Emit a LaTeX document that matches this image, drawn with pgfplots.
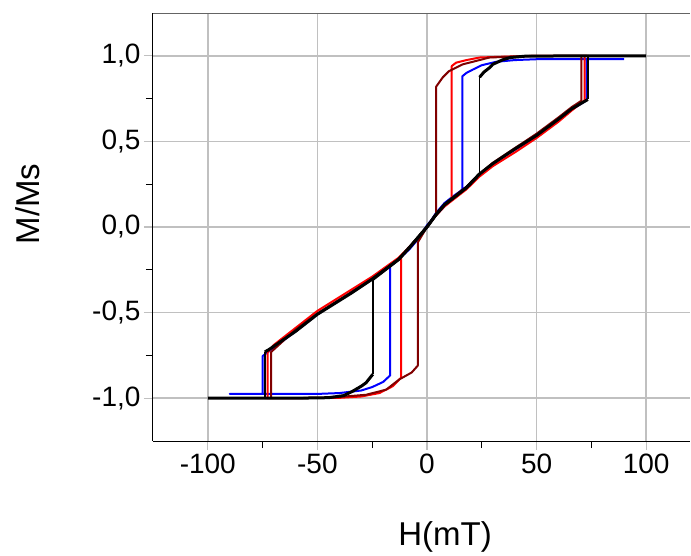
\documentclass[border=0pt]{standalone}
\usepackage{fontspec}
\setmainfont{Liberation Sans}
\usepackage{pgfplots}
\pgfplotsset{compat=1.18}
\definecolor{gridgray}{RGB}{192,192,192}
\definecolor{darkred}{RGB}{128,0,0}
\definecolor{topgray}{RGB}{100,100,100}

\begin{document}
\begin{tikzpicture}
\begin{axis}[
  name=a,
  scale only axis,
  width=537pt, height=428pt,
  xmin=-125, xmax=120,
  ymin=-1.25, ymax=1.25,
  axis lines*=left,
  axis line style={black, line width=1pt},
  tick align=outside,
  xtick={-100,-50,0,50,100},
  ytick={-1,-0.5,0,0.5,1},
  minor x tick num=1, minor y tick num=1,
  major tick length=9pt, minor tick length=7pt,
  major tick style={gridgray, line width=1.3pt},
  minor tick style={black, line width=1pt},
  grid=major,
  major grid style={gridgray, line width=1.5pt},
  tick label style={font=\fontsize{28}{30}\selectfont},
  /pgf/number format/assume math mode=true,
  yticklabel style={/pgf/number format/.cd, fixed, fixed zerofill, precision=1, use comma},
  xlabel={H(mT)}, ylabel={M/Ms},
  label style={font=\fontsize{33}{36}\selectfont},
  xlabel style={at={(axis description cs:0.544,-0.245)}, anchor=base},
  ylabel style={at={(axis description cs:-0.2337,0.554)}, anchor=center},
  every axis plot/.append style={line join=round},
]
\draw[topgray, line width=1pt] (rel axis cs:0,1) -- (rel axis cs:1,1);

% blue loop
\addplot[blue, line width=2pt] coordinates {
(90,0.98) (50,0.98) (40,0.975) (31.6,0.965) (25,0.945) (21,0.92) (18,0.9) (16.1,0.88)
(16.1,0.22) (12,0.17) (8,0.12) (4,0.07) (0,0.01) (-4,-0.07) (-8,-0.13) (-13,-0.19)
(-25,-0.3) (-35,-0.385) (-50,-0.51) (-60,-0.61) (-72,-0.725) (-75,-0.754)
(-75,-0.975) (-90,-0.975)
(-50,-0.975) (-40,-0.97) (-30,-0.955) (-25,-0.935) (-20,-0.905) (-16.8,-0.867)
(-16.8,-0.23) (-13,-0.19) (-8,-0.13) (-4,-0.07) (0,0) (4,0.08) (8,0.14) (12,0.18)
(18,0.235) (24,0.31) (30,0.37) (40,0.45) (50,0.53) (60,0.625) (66,0.685) (72.8,0.74)
(72.8,0.98) (90,0.98)
};

% red loop
\addplot[red, line width=2pt] coordinates {
(74,1.0) (50,1.0) (35,0.995) (24,0.99) (18,0.975) (13.3,0.96) (11.3,0.94)
(11.3,0.16) (8,0.12) (4,0.065) (0,0) (-4,-0.06) (-8,-0.115) (-13,-0.18) (-25,-0.29)
(-35,-0.37) (-50,-0.49) (-60,-0.59) (-70,-0.69) (-72.7,-0.733)
(-72.7,-1.0) (-74,-1.0)
(-40,-0.998) (-30,-0.99) (-21.7,-0.97) (-15.6,-0.93) (-11.8,-0.88)
(-11.8,-0.17) (-8,-0.115) (-4,-0.06) (0,0) (4,0.065) (8,0.12) (12,0.16) (18,0.22)
(24,0.295) (30,0.355) (40,0.435) (50,0.52) (60,0.615) (66,0.68) (71.9,0.74)
(71.9,1.0) (74,1.0)
};

% dark red loop
\addplot[darkred, line width=2pt] coordinates {
(73,1.0) (50,1.0) (28.5,0.99) (16.3,0.95) (10,0.91) (7.2,0.874) (4.2,0.82)
(4.2,0.08) (0,0) (-4,-0.06) (-8,-0.12) (-13,-0.19) (-25,-0.3) (-35,-0.385)
(-50,-0.505) (-60,-0.6) (-71.1,-0.73)
(-71.1,-1.0) (-73,-1.0)
(-45,-0.998) (-27.8,-0.98) (-18.6,-0.95) (-12.6,-0.89) (-7,-0.85) (-4.2,-0.81)
(-4.2,-0.09) (0,0) (4,0.07) (8,0.13) (12,0.175) (18,0.235) (24,0.31) (30,0.375)
(40,0.46) (50,0.545) (60,0.64) (66,0.7) (70.4,0.737)
(70.4,1.0) (73,1.0)
};

% black loop: thick branches, thin jumps
\addplot[black, line width=3pt] coordinates {
(24,0.875) (26,0.905) (28.5,0.93) (30,0.95) (34.6,0.977) (38,0.99) (45,0.998) (75,1.0) (100,1.0)
};
\addplot[black, line width=3pt] coordinates {
(24,0.31) (18,0.23) (12,0.17) (8,0.13) (4,0.07) (0,0) (-4,-0.06) (-8,-0.12) (-13,-0.19)
(-25,-0.305) (-35,-0.39) (-50,-0.51) (-60,-0.61) (-72,-0.715) (-74,-0.73)
};
\addplot[black, line width=3pt] coordinates {
(-24.7,-0.86) (-27.8,-0.91) (-30,-0.93) (-34,-0.96) (-38,-0.985) (-45,-0.997) (-60,-1.0) (-100,-1.0)
};
\addplot[black, line width=3pt] coordinates {
(-24.7,-0.306) (-13,-0.19) (-8,-0.12) (-4,-0.06) (0,0) (4,0.07) (8,0.13) (12,0.17)
(18,0.23) (24,0.31) (30,0.37) (40,0.455) (50,0.535) (60,0.63) (66,0.69) (73.4,0.745)
};
\addplot[black, line width=1.6pt] coordinates {(24,0.875) (24,0.31)};
\addplot[black, line width=1.6pt] coordinates {(-74,-0.73) (-74,-1.0)};
\addplot[black, line width=1.6pt] coordinates {(-24.7,-0.86) (-24.7,-0.306)};
\addplot[black, line width=1.6pt] coordinates {(73.4,0.745) (73.4,1.0)};
\end{axis}
\pgfresetboundingbox
\path (a.south west) ++(-153pt,-114pt) rectangle ++(691pt,555pt);
\end{tikzpicture}
\end{document}
